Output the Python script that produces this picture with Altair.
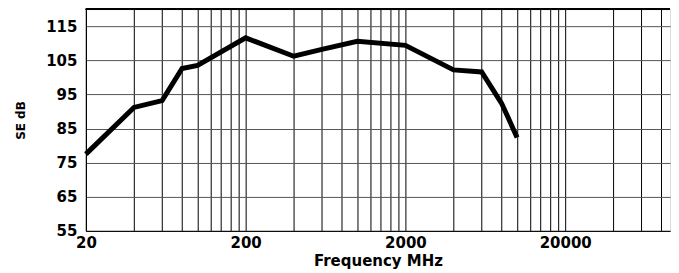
import altair as alt
import pandas as pd

# Data
freq = [20, 40, 60, 80, 100, 200, 400, 600, 1000, 2000, 4000, 6000, 8000, 10000]
se_db = [77.5, 91.2, 93.2, 102.6, 103.5, 111.6, 106.2, 108.2, 110.6, 109.4, 102.2, 101.6, 92.4, 82.4]

grid_x = [20, 40, 60, 80, 100, 120, 140, 160, 180,
          200, 400, 600, 800, 1000, 1200, 1400, 1600, 1800,
          2000, 4000, 6000, 8000, 10000, 12000, 14000, 16000, 18000,
          20000, 40000, 60000, 80000]
x_labels = [20, 200, 2000, 20000]
y_ticks = [55, 65, 75, 85, 95, 105, 115]

df = pd.DataFrame({"freq": freq, "se": se_db})

FONT = "DejaVu Sans"

x_enc = alt.X(
    "freq:Q",
    scale=alt.Scale(type="log", domain=[20, 90600], nice=False),
    axis=alt.Axis(
        values=grid_x,
        format="d",
        labelExpr="indexof([" + ",".join(str(v) for v in x_labels) + "], datum.value) >= 0 ? datum.label : ''",
        grid=True, gridColor="black", gridOpacity=1, gridWidth=1,
        ticks=False, domainColor="black", domainWidth=1,
        labelFlush=False, labelFont=FONT, labelFontWeight="bold", labelFontSize=15,
        labelColor="black", labelPadding=5, labelOverlap=False,
        title="Frequency MHz", titleFont=FONT, titleFontWeight="bold", titleFontSize=15,
        titleColor="black", titlePadding=3,
    ),
)
y_enc = alt.Y(
    "se:Q",
    scale=alt.Scale(domain=[55, 120], nice=False, zero=False),
    axis=alt.Axis(
        values=y_ticks,
        grid=True, gridColor="#555555", gridOpacity=1, gridWidth=1,
        ticks=False, domainColor="black", domainWidth=1,
        labelFlush=False, labelOverlap=False, labelFont=FONT, labelFontWeight="bold", labelFontSize=15,
        labelColor="black", labelPadding=9,
        title="SE dB", titleFont=FONT, titleFontWeight="bold", titleFontSize=12,
        titleColor="black", titlePadding=18,
    ),
)

line = alt.Chart(df).mark_line(color="black", strokeWidth=5).encode(x=x_enc, y=y_enc)

top = alt.Chart(df).mark_rule(color="black", strokeWidth=1).encode(
    x=alt.value(0), x2=alt.value(585), y=alt.value(0)
)

chart = (
    alt.layer(line, top)
    .properties(width=585, height=222, padding={"left": 6, "top": 0, "right": 0, "bottom": 0})
    .configure_view(stroke=None)
    .configure(background="white")
)

chart.save("out.html", embed_options={"renderer": "svg", "actions": False})
